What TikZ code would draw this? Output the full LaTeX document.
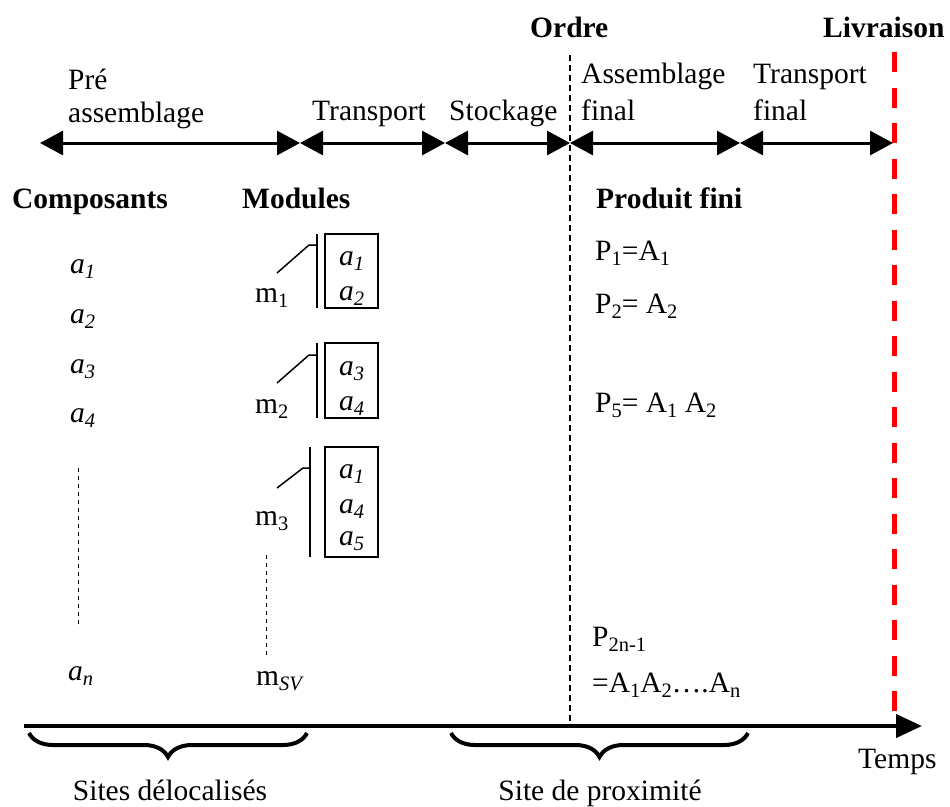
\documentclass[tikz,border=0pt]{standalone}
\usepackage{fontspec}
\setmainfont{Liberation Serif}
\usetikzlibrary{arrows.meta,decorations.pathreplacing}
\newcommand\lsub[1]{\raisebox{-0.18em}{\fontsize{20.5}{21}\selectfont #1}}
\begin{document}
\begin{tikzpicture}[x=1pt,y=-1pt,
  txt/.style={inner sep=0pt, anchor=base west, font=\fontsize{29.5}{34}\selectfont},
  txtb/.style={txt, font=\fontsize{29.5}{34}\selectfont\bfseries},
  txtc/.style={txt, anchor=base},
  comp/.style={txt, font=\fontsize{29.5}{34}\selectfont\itshape},
  phase/.style={line width=3pt, {Triangle[length=23pt,width=24pt]}-{Triangle[length=23pt,width=24pt]}},
  thin dash/.style={line width=1pt, dash pattern=on 4pt off 4pt},
  modline/.style={line width=1.5pt},
  modbox/.style={draw, line width=1.5pt, inner sep=0pt, minimum width=53pt},
  bracestyle/.style={line width=4pt, decorate, decoration={brace, mirror, amplitude=24pt}}
]
\useasboundingbox (0,0) rectangle (950,806);

% phase arrows
\coordinate (p0) at (40,143);
\coordinate (p1) at (300,143);
\coordinate (p2) at (445,143);
\coordinate (p3) at (570,143);
\coordinate (p4) at (740,143);
\coordinate (p5) at (893,143);
\draw[phase] (p0) -- (p1);
\draw[phase] (p1) -- (p2);
\draw[phase] (p2) -- (p3);
\draw[phase] (p3) -- (p4);
\draw[phase] (p4) -- (p5);

\node[txt] (pre1) at (68,89) {Pré};
\node[txt] (pre2) at (68,122) {assemblage};
\node[txt] (tr) at (312,120) {Transport};
\node[txt] (st) at (449,120) {Stockage};
\node[txt] (af1) at (581,83) {Assemblage};
\node[txt] (af2) at (581,120) {final};
\node[txt] (tf1) at (753,83) {Transport};
\node[txt] (tf2) at (753,120) {final};
\node[txtb] (ordre) at (530,37) {Ordre};
\node[txtb] (livr) at (823,37) {Livraison};

% vertical lines
\coordinate (o1) at (570,55);
\coordinate (o2) at (570,722);
\draw[line width=1.2pt, dash pattern=on 6pt off 4pt] (o1) -- (o2);
\coordinate (r1) at (894,52);
\coordinate (r2) at (894,726);
\draw[red, line width=5pt, dash pattern=on 20pt off 15.5pt] (r1) -- (r2);

% headings
\node[txtb] (hc) at (12,208) {Composants};
\node[txtb] (hm) at (242,208) {Modules};
\node[txtb] (hp) at (596,208) {Produit fini};

% components
\node[comp] (a1) at (70,273) {a\lsub{1}};
\node[comp] (a2) at (70,323) {a\lsub{2}};
\node[comp] (a3) at (70,373) {a\lsub{3}};
\node[comp] (a4) at (70,422) {a\lsub{4}};
\node[comp] (an) at (68,680) {a\lsub{n}};
\coordinate (ad1) at (78,468);
\coordinate (ad2) at (78,628);
\draw[thin dash] (ad1) -- (ad2);

% module boxes
\node[modbox, minimum height=74pt] (b1) at (351.5,271) {};
\node[modbox, minimum height=75pt] (b2) at (351.5,380.5) {};
\node[modbox, minimum height=110pt] (b3) at (351.5,502) {};

\node[comp] (b1a) at (339,265) {a\lsub{1}};
\node[comp] (b1b) at (339,300) {a\lsub{2}};
\node[comp] (b2a) at (339,375) {a\lsub{3}};
\node[comp] (b2b) at (339,410) {a\lsub{4}};
\node[comp] (b3a) at (339,478) {a\lsub{1}};
\node[comp] (b3b) at (339,513) {a\lsub{4}};
\node[comp] (b3c) at (339,545) {a\lsub{5}};

% module brackets
\coordinate (v1t) at (317,234); \coordinate (v1b) at (317,308);
\coordinate (v2t) at (317,343); \coordinate (v2b) at (317,418);
\coordinate (v3t) at (310,447); \coordinate (v3b) at (310,557);
\draw[modline] (v1t) -- (v1b);
\draw[modline] (v2t) -- (v2b);
\draw[modline] (v3t) -- (v3b);
\coordinate (s1a) at (277,273); \coordinate (s1b) at (309,245); \coordinate (s1c) at (317,245);
\coordinate (s2a) at (277,383); \coordinate (s2b) at (309,355); \coordinate (s2c) at (317,355);
\coordinate (s3a) at (277,488); \coordinate (s3b) at (303,468); \coordinate (s3c) at (310,468);
\draw[modline] (s1a) -- (s1b) -- (s1c);
\draw[modline] (s2a) -- (s2b) -- (s2c);
\draw[modline] (s3a) -- (s3b) -- (s3c);

\node[txt] (m1) at (255,302) {m\lsub{1}};
\node[txt] (m2) at (255,413) {m\lsub{2}};
\node[txt] (m3) at (255,525) {m\lsub{3}};
\node[txt] (msv) at (256,685) {m\lsub{\itshape SV}};
\coordinate (md1) at (266,555);
\coordinate (md2) at (266,655);
\draw[thin dash] (md1) -- (md2);

% products
\node[txt] (P1) at (595,260) {P\lsub{1}=A\lsub{1}};
\node[txt] (P2) at (595,313) {P\lsub{2}= A\lsub{2}};
\node[txt] (P5) at (595,412) {P\lsub{5}= A\lsub{1} A\lsub{2}};
\node[txt] (Pn) at (592,646) {P\lsub{2n-1}};
\node[txt] (Pn2) at (592,692) {=A\lsub{1}A\lsub{2}\dots.A\lsub{n}};

% time axis
\coordinate (t0) at (24,726);
\coordinate (t1) at (922,726);
\draw[line width=4pt, -{Triangle[length=26pt,width=23pt]}] (t0) -- (t1);
\node[txt] (temps) at (858,768) {Temps};

% braces
\coordinate (br1a) at (29,733); \coordinate (br1b) at (307,733);
\coordinate (br2a) at (451,733); \coordinate (br2b) at (748,733);
\draw[bracestyle] (br1a) -- (br1b);
\draw[bracestyle] (br2a) -- (br2b);
\node[txtc] (sd) at (170,800) {Sites délocalisés};
\node[txtc] (sp) at (600,800) {Site de proximité};
\end{tikzpicture}
\end{document}
